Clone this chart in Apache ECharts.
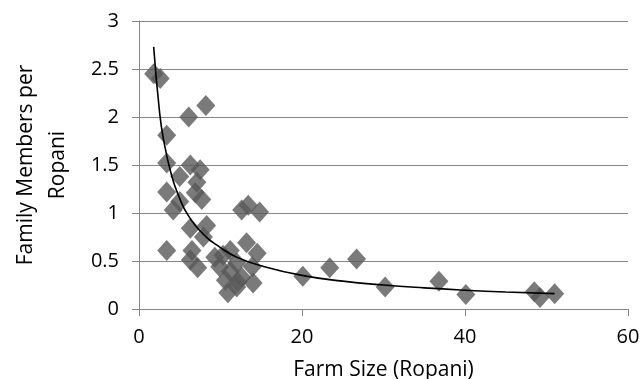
<!DOCTYPE html>
<html>
<head>
<meta charset="utf-8">
<script src="https://cdn.jsdelivr.net/npm/echarts@6/dist/echarts.min.js"></script>
<style>
  html, body { margin: 0; padding: 0; background: #fff; }
  #chart { width: 644px; height: 379px; }
</style>
</head>
<body>
<div id="chart"></div>
<script>
// farm size (ropani) vs family members per ropani
var farmSize = [1.8, 2.6, 6.1, 8.2, 3.4, 3.4, 6.3, 7.5, 7.1, 5.0, 3.4, 6.9, 7.7, 4.2, 5.0,
  6.3, 8.3, 7.9, 3.4, 6.5, 6.3, 7.2, 9.3, 9.9, 10.6, 10.9, 13.2, 14.5, 13.9, 14.0,
  12.6, 12.0, 11.2, 12.0, 13.4, 14.8, 12.6, 10.3, 11.2, 12.1, 20.1, 23.4, 26.7, 30.2,
  36.8, 40.1, 48.5, 49.2, 51.0];
var membersPerRopani = [2.45, 2.4, 2.0, 2.12, 1.81, 1.52, 1.5, 1.45, 1.32, 1.38, 1.22, 1.21, 1.14, 1.03, 1.12,
  0.84, 0.87, 0.75, 0.61, 0.61, 0.51, 0.43, 0.54, 0.44, 0.3, 0.17, 0.69, 0.58, 0.44, 0.27,
  0.33, 0.48, 0.61, 0.23, 1.08, 1.01, 1.03, 0.56, 0.39, 0.28, 0.34, 0.43, 0.52, 0.23,
  0.29, 0.15, 0.18, 0.12, 0.16];

// trend line
var trendX = [1.8, 2.5, 3, 4, 5, 6, 8, 10, 12, 15, 20, 25, 30, 35, 40, 45, 51];
var trendY = [2.73, 2.07, 1.77, 1.39, 1.15, 0.98, 0.77, 0.64, 0.54, 0.45, 0.35, 0.29, 0.25, 0.22, 0.196, 0.177, 0.16];

var xTicks = [0, 20, 40, 60];
var yTicks = [0, 0.5, 1, 1.5, 2, 2.5, 3];

var points = farmSize.map(function (x, i) { return [x, membersPerRopani[i]]; });
var trend = trendX.map(function (x, i) { return [x, trendY[i]]; });

var font = '"Open Sans", sans-serif';
var gray = '#868686';

var myChart = echarts.init(document.getElementById('chart'));
var option = {
  animation: false,
  grid: { left: 139, right: 16, top: 21, bottom: 70, containLabel: false, outerBoundsMode: 'none' },
  xAxis: {
    type: 'value',
    min: xTicks[0],
    max: xTicks[xTicks.length - 1],
    interval: 20,
    name: 'Farm Size (Ropani)',
    nameLocation: 'middle',
    nameGap: 51,
    nameTextStyle: { fontFamily: font, fontSize: 21, color: '#000' },
    axisLine: { show: true, lineStyle: { color: gray, width: 1 } },
    axisTick: { show: true, length: 7, lineStyle: { color: gray } },
    axisLabel: { fontFamily: font, fontSize: 20, color: '#000', margin: 18 },
    splitLine: { show: false }
  },
  yAxis: {
    type: 'value',
    min: yTicks[0],
    max: yTicks[yTicks.length - 1],
    interval: 0.5,
    name: 'Family Members per\nRopani',
    nameLocation: 'middle',
    nameGap: 65,
    nameTextStyle: { fontFamily: font, fontSize: 21, color: '#000', lineHeight: 32 },
    axisLine: { show: true, lineStyle: { color: gray, width: 1 } },
    axisTick: { show: true, length: 7, lineStyle: { color: gray } },
    axisLabel: { fontFamily: font, fontSize: 20, color: '#000', margin: 20 },
    splitLine: { show: true, lineStyle: { color: gray, width: 1 } }
  },
  series: [
    {
      type: 'scatter',
      data: points,
      symbol: 'diamond',
      symbolSize: [19, 21],
      itemStyle: { color: '#595959' }
    },
    {
      type: 'line',
      data: trend,
      smooth: true,
      symbol: 'none',
      lineStyle: { color: '#000', width: 1.6 },
      z: 3
    }
  ]
};
myChart.setOption(option);
</script>
</body>
</html>
